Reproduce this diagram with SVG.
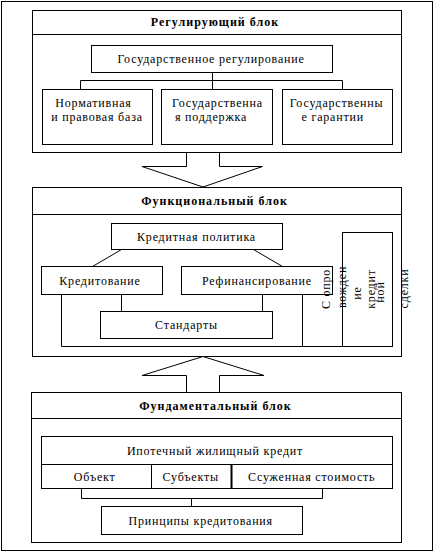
<svg xmlns="http://www.w3.org/2000/svg" width="443" height="553" viewBox="0 0 443 553">
<style>
.b{fill:#fff;stroke:#000;stroke-width:1}
.l{fill:none;stroke:#000;stroke-width:1}
text{font-family:"Liberation Serif","Times New Roman",serif;font-size:12px;fill:#000;text-anchor:middle;letter-spacing:0.8px}
.h{font-weight:bold;letter-spacing:1px}
</style>
<rect width="443" height="553" fill="#fff"/>
<rect id="frame" class="b" x="1.5" y="1.5" width="431" height="549"/>

<g id="reg-block">
<rect class="b" x="32.5" y="10.5" width="369" height="142"/>
<line class="l" x1="32.5" y1="34.5" x2="401.5" y2="34.5"/>
<text class="h" x="215" y="26">Регулирующий блок</text>
</g>
<g id="gos-reg">
<rect class="b" x="91.5" y="45.5" width="241" height="27"/>
<text x="211" y="62.5">Государственное регулирование</text>
</g>
<g id="norm">
<rect class="b" x="42.5" y="89.5" width="110" height="55"/>
<text x="93.5" y="106.5">Нормативная</text>
<text x="97" y="121">и правовая база</text>
</g>
<g id="gos-podd">
<rect class="b" x="161.5" y="89.5" width="111" height="55"/>
<text x="217.5" y="106.5">Государственна</text>
<text x="211" y="121">я поддержка</text>
</g>
<g id="gos-gar">
<rect class="b" x="282.5" y="89.5" width="110" height="55"/>
<text x="336.5" y="106.5">Государственны</text>
<text x="332.7" y="121">е гарантии</text>
</g>

<g id="func-block">
<rect class="b" x="32.5" y="187.5" width="369" height="169"/>
<line class="l" x1="32.5" y1="214.5" x2="401.5" y2="214.5"/>
<text class="h" x="214.5" y="204.7">Функциональный блок</text>
</g>
<g id="kred-pol">
<rect class="b" x="111.5" y="223.5" width="171" height="26"/>
<text x="196.5" y="240.5">Кредитная политика</text>
</g>
<g id="kred">
<rect class="b" x="41.5" y="266.5" width="121" height="28"/>
<text x="100" y="284.5">Кредитование</text>
</g>
<g id="refin">
<rect class="b" x="181.5" y="266.5" width="151" height="28"/>
<text x="257" y="284.5">Рефинансирование</text>
</g>
<g id="stand">
<rect class="b" x="100.5" y="311.5" width="172" height="27"/>
<text x="186.5" y="329">Стандарты</text>
</g>
<g id="sopr">
<rect class="b" x="342.5" y="232.5" width="50" height="114"/>
<text transform="translate(330,289) rotate(-90)">С опро</text>
<text transform="translate(346,287) rotate(-90)">вожден</text>
<text transform="translate(361,293) rotate(-90)">ие</text>
<text transform="translate(375,289) rotate(-90)">кредит</text>
<text transform="translate(383.5,292) rotate(-90)">ной</text>
<text transform="translate(408,288.5) rotate(-90)">сделки</text>
</g>

<g id="fund-block">
<rect class="b" x="31.5" y="392.5" width="370" height="150"/>
<line class="l" x1="31.5" y1="418.5" x2="401.5" y2="418.5"/>
<text class="h" x="215.5" y="409.5">Фундаментальный блок</text>
</g>
<g id="ipot">
<rect class="b" x="41.5" y="436.5" width="351" height="52"/>
<line class="l" x1="41.5" y1="464.5" x2="392.5" y2="464.5"/>
<line class="l" x1="151.5" y1="464.5" x2="151.5" y2="488.5"/>
<line x1="231.5" y1="464.5" x2="231.5" y2="488.5" stroke="#000" stroke-width="2"/>
<text x="215" y="454.5">Ипотечный жилищный кредит</text>
<text x="94.7" y="480.5">Объект</text>
<text x="190.7" y="480.5">Субъекты</text>
<text x="311.7" y="480.5">Ссуженная стоимость</text>
</g>
<g id="princ">
<rect class="b" x="101.5" y="506.5" width="201" height="28"/>
<text x="200.7" y="524.5">Принципы кредитования</text>
</g>

<g id="connectors">
<path class="l" d="M212.5,72.5V80.5M80.5,89.5V80.5H342.5V89.5M212.5,80.5V89.5"/>
<path class="l" d="M121.5,249.5L92.5,266.5M253.5,249.5L282.5,266.5"/>
<path class="l" d="M121.5,294.5V311.5M262.5,294.5V311.5M61.5,294.5V346.5H342.5M302.5,294.5V346.5"/>
<path class="l" d="M81.5,488.5V498.5H322.5V488.5M191.5,498.5V506.5"/>
<polygon class="b" points="186.5,152.5 219.5,152.5 219.5,166.5 262.5,166.5 203,187 142,166.5 186.5,166.5"/>
<polygon class="b" points="203,356.5 264,375.5 219.5,375.5 219.5,392.5 186.5,392.5 186.5,375.5 142,375.5"/>
</g>
</svg>
